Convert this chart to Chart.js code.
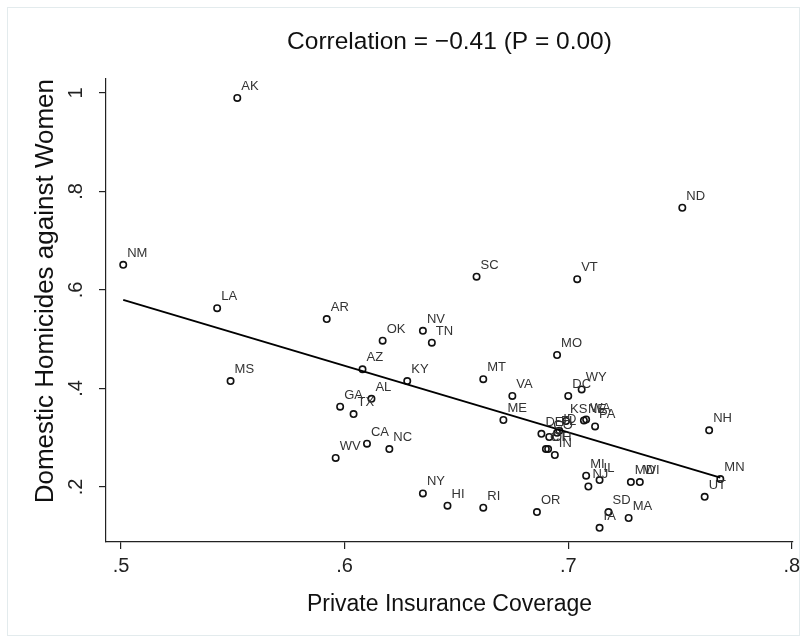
<!DOCTYPE html>
<html>
<head>
<meta charset="utf-8">
<script src="https://cdn.jsdelivr.net/npm/chart.js@4/dist/chart.umd.min.js"></script>
<style>
  html, body { margin: 0; padding: 0; background: #fff; }
  #wrap { position: relative; width: 806px; height: 642px; }
</style>
</head>
<body>
<div id="wrap"><canvas id="grafico"></canvas></div>
<script>
// estados (sigla) e os dois indicadores
const estados = ['AK', 'NM', 'LA', 'MS', 'AR', 'OK', 'NV', 'TN', 'AZ', 'KY',
                 'AL', 'GA', 'TX', 'CA', 'NC', 'WV', 'NY', 'HI', 'RI', 'OR',
                 'SC', 'VT', 'MO', 'MT', 'VA', 'ME', 'DC', 'WY', 'KS', 'ID',
                 'NE', 'WA', 'PA', 'DE', 'CO', 'FL', 'CT', 'OH', 'IN', 'ND',
                 'NH', 'MN', 'UT', 'MD', 'WI', 'MI', 'NJ', 'IL', 'SD', 'IA', 'MA'];
const cobertura = [0.552, 0.501, 0.543, 0.549, 0.592, 0.617, 0.635, 0.639, 0.608, 0.628,
                   0.612, 0.598, 0.604, 0.610, 0.620, 0.596, 0.635, 0.646, 0.662, 0.686,
                   0.659, 0.704, 0.695, 0.662, 0.675, 0.671, 0.700, 0.706, 0.699, 0.696,
                   0.707, 0.708, 0.712, 0.688, 0.6915, 0.695, 0.690, 0.691, 0.694, 0.751,
                   0.763, 0.768, 0.761, 0.728, 0.732, 0.708, 0.709, 0.714, 0.718, 0.714, 0.727];
const homicidios = [0.990, 0.651, 0.563, 0.415, 0.541, 0.497, 0.517, 0.493, 0.439, 0.415,
                    0.379, 0.363, 0.348, 0.288, 0.277, 0.259, 0.187, 0.162, 0.158, 0.149,
                    0.627, 0.622, 0.468, 0.419, 0.385, 0.336, 0.385, 0.398, 0.334, 0.314,
                    0.335, 0.337, 0.323, 0.308, 0.3015, 0.310, 0.277, 0.277, 0.265, 0.767,
                    0.315, 0.216, 0.180, 0.210, 0.210, 0.223, 0.201, 0.214, 0.149, 0.117, 0.137];

// reta de ajuste (extremos)
const ajusteX = [0.501, 0.768];
const ajusteY = [0.580, 0.219];

// marcas dos eixos
const ticksX = [0.5, 0.6, 0.7, 0.8];
const rotulosX = ['.5', '.6', '.7', '.8'];
const ticksY = [0.2, 0.4, 0.6, 0.8, 1];
const rotulosY = ['.2', '.4', '.6', '.8', '1'];

const FONTE = '"Liberation Sans", Arial, Helvetica, sans-serif';
Chart.defaults.font.family = FONTE;

// moldura clara em volta do gráfico
const moldura = {
    id: 'moldura',
    beforeDraw(chart) {
        const ctx = chart.ctx;
        ctx.save();
        ctx.fillStyle = '#fff';
        ctx.fillRect(0, 0, chart.width, chart.height);
        ctx.strokeStyle = '#e3ebed';
        ctx.lineWidth = 1;
        ctx.strokeRect(7.5, 7.5, 792, 628);
        ctx.restore();
    }
};

// sigla de cada estado ao lado do ponto
const rotulosEstados = {
    id: 'rotulosEstados',
    afterDatasetsDraw(chart) {
        const meta = chart.getDatasetMeta(0);
        const ctx = chart.ctx;
        ctx.save();
        ctx.font = '13px ' + FONTE;
        ctx.fillStyle = '#333';
        ctx.textBaseline = 'alphabetic';
        ctx.textAlign = 'left';
        meta.data.forEach((pt, i) => {
            ctx.fillText(estados[i], pt.x + 4, pt.y - 8);
        });
        ctx.restore();
    }
};

const corEixo = '#222';

new Chart(document.getElementById('grafico'), {
    type: 'scatter',
    data: {
        datasets: [{
            label: 'Estados',
            data: estados.map((s, i) => ({ x: cobertura[i], y: homicidios[i] })),
            pointStyle: 'circle',
            pointRadius: 3.2,
            pointHoverRadius: 3.2,
            borderWidth: 1.6,
            borderColor: '#111',
            backgroundColor: 'rgba(0,0,0,0)',
            order: 1
        }, {
            type: 'line',
            label: 'Ajuste',
            data: ajusteX.map((x, i) => ({ x: x, y: ajusteY[i] })),
            borderColor: '#000',
            borderWidth: 2,
            pointRadius: 0,
            fill: false,
            order: 0
        }]
    },
    options: {
        responsive: true,
        maintainAspectRatio: false,
        animation: false,
        events: [],
        layout: { padding: { top: 0, left: 0, right: 13, bottom: 0 } },
        plugins: {
            legend: { display: false },
            tooltip: { enabled: false },
            title: {
                display: true,
                text: 'Correlation = \u22120.41 (P = 0.00)',
                fullSize: false,
                color: '#111',
                font: { size: 24.5, weight: 'normal' },
                padding: { top: 28, bottom: 21.6 }
            }
        },
        scales: {
            x: {
                type: 'linear',
                min: 0.4933,
                max: 0.8005,
                afterBuildTicks: s => { s.ticks = ticksX.map(v => ({ value: v })); },
                afterFit: s => { s.height = 100; },
                ticks: {
                    callback: (v, i) => rotulosX[i],
                    autoSkip: false,
                    maxRotation: 0,
                    color: corEixo,
                    padding: 5,
                    font: { size: 20 }
                },
                grid: { drawOnChartArea: false, tickLength: 7, color: corEixo, lineWidth: 1.2 },
                border: { color: corEixo, width: 1.2 },
                title: {
                    display: true,
                    text: 'Private Insurance Coverage',
                    color: '#111',
                    font: { size: 23 },
                    padding: { top: 0, bottom: 24 }
                }
            },
            y: {
                type: 'linear',
                min: 0.0883,
                max: 1.0284,
                afterBuildTicks: s => { s.ticks = ticksY.map(v => ({ value: v })); },
                afterFit: s => { s.width = 106; },
                ticks: {
                    callback: (v, i) => rotulosY[i],
                    minRotation: 90,
                    maxRotation: 90,
                    crossAlign: 'center',
                    color: corEixo,
                    padding: 14,
                    font: { size: 20 }
                },
                grid: { drawOnChartArea: false, tickLength: 7, color: corEixo, lineWidth: 1.2 },
                border: { color: corEixo, width: 1.2 },
                title: {
                    display: true,
                    text: 'Domestic Homicides against Women',
                    align: 'end',
                    color: '#111',
                    font: { size: 26 },
                    padding: { top: 30, bottom: 0 }
                }
            }
        }
    },
    plugins: [moldura, rotulosEstados]
});
</script>
</body>
</html>
